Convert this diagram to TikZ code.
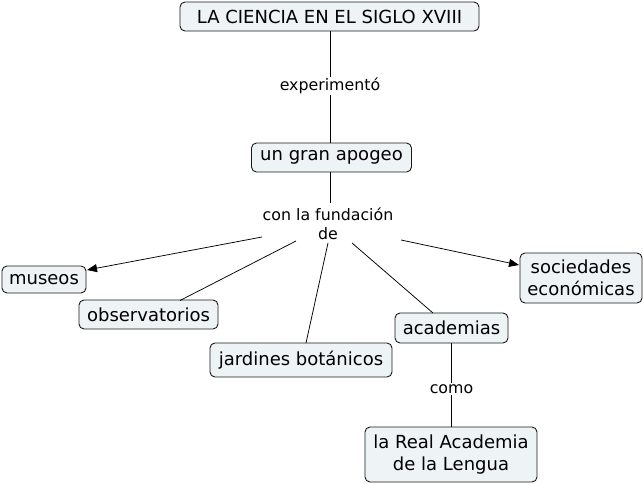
\documentclass[tikz,border=0pt]{standalone}
\usepackage{fontspec}
\setmainfont{DejaVu Sans}
\usetikzlibrary{arrows.meta}
\definecolor{nodefill}{HTML}{EEF3F6}
\definecolor{edgecol}{HTML}{1A1A1A}
\tikzset{
  concept/.style={draw=edgecol, line width=0.9pt, fill=nodefill, rounded corners=5pt, font=\fontsize{18}{21.5}\selectfont, align=center, inner sep=0pt},
  linklabel/.style={fill=white, font=\fontsize{15.8}{19}\selectfont, align=center, inner sep=1pt},
  conn/.style={draw=black, line width=0.75pt},
  arr/.style={conn, -{Triangle[length=10pt,width=8pt]}}
}
\begin{document}
\begin{tikzpicture}[x=1pt,y=-1pt]
\useasboundingbox (0,0) rectangle (643,484);
\node[concept, minimum width=299pt, minimum height=29pt] (top) at (329.5,16.5) {LA CIENCIA EN EL SIGLO XVIII};
\node[concept, minimum width=160pt, minimum height=29pt] (apogeo) at (331.5,157.5) {un gran apogeo};
\node[concept, minimum width=84pt, minimum height=27pt] (museos) at (44,279.5) {museos};
\node[concept, minimum width=139pt, minimum height=29pt] (obs) at (148.5,314.5) {observatorios};
\node[concept, minimum width=182pt, minimum height=34pt] (jard) at (301,360) {jardines botánicos};
\node[concept, minimum width=113pt, minimum height=30pt] (acad) at (451.5,328) {academias};
\node[concept, minimum width=122pt, minimum height=50pt] (soc) at (581,278) {sociedades\\económicas};
\node[concept, minimum width=172pt, minimum height=55pt] (real) at (451,454.5) {la Real Academia\\de la Lengua};

\node[linklabel] (exp) at (330,86) {experimentó};
\node[inner sep=0pt, font=\fontsize{15.8}{19.5}\selectfont, align=center] (fund) at (328,224) {con la fundación\\de};
\node[linklabel] (como) at (451.5,389) {como};

\coordinate (ftop) at (330,203);
\coordinate (fmus) at (262,237);
\coordinate (fobs) at (296,241);
\coordinate (fjar) at (328,243);
\coordinate (faca) at (352,243);
\coordinate (fsoc) at (401,240);
\coordinate (amus) at (87,270);
\coordinate (aobs) at (180,300.5);
\coordinate (ajar) at (306,343);
\coordinate (aaca) at (433,313);
\coordinate (asoc) at (519,265);

\draw[conn] (top.south -| exp) -- (exp);
\draw[conn] (exp) -- (apogeo.north -| exp);
\draw[conn] (apogeo.south -| ftop) -- (ftop);
\draw[arr] (fmus) -- (amus);
\draw[conn] (fobs) -- (aobs);
\draw[conn] (fjar) -- (ajar);
\draw[conn] (faca) -- (aaca);
\draw[arr] (fsoc) -- (asoc);
\draw[conn] (acad.south -| como) -- (como);
\draw[conn] (como) -- (real.north -| como);
\end{tikzpicture}
\end{document}
